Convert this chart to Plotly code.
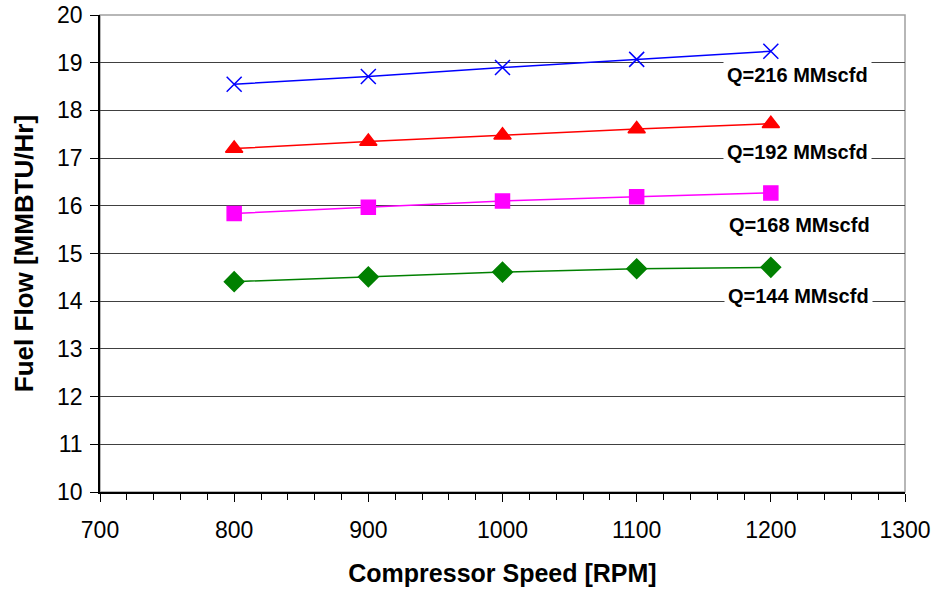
import plotly.graph_objects as go

speed = [800, 900, 1000, 1100, 1200]
q216 = [18.55, 18.71, 18.90, 19.07, 19.24]
q192 = [17.20, 17.35, 17.48, 17.61, 17.72]
q168 = [15.84, 15.97, 16.10, 16.19, 16.27]
q144 = [14.41, 14.51, 14.61, 14.68, 14.71]

labels = ["Q=216 MMscfd", "Q=192 MMscfd", "Q=168 MMscfd", "Q=144 MMscfd"]
label_x = [1219.5, 1219.5, 1221.5, 1220.5]
label_y = [18.74, 17.13, 15.60, 14.11]

series = [
    (q216, "#0000FF", "x-thin", 15),
    (q192, "#FF0000", "triangle-up", 15),
    (q168, "#FF00FF", "square", 14),
    (q144, "#008000", "diamond", 15),
]

FONT = "Arial, Liberation Sans, sans-serif"

fig = go.Figure()
for vals, col, sym, sz in series:
    fig.add_trace(go.Scatter(
        x=speed, y=vals, mode="lines+markers",
        line=dict(color=col, width=1.5),
        marker=dict(symbol=sym, size=sz, color=col,
                    line=dict(color=col, width=1.5)),
        showlegend=False,
    ))

for t, xx, yy in zip(labels, label_x, label_y):
    fig.add_annotation(x=xx, y=yy, text="<b>" + t + "</b>", showarrow=False,
                       font=dict(family=FONT, size=20, color="black"),
                       bgcolor="white", borderpad=3)

fig.add_shape(type="rect", xref="paper", yref="paper", x0=0, y0=0, x1=1, y1=1,
              line=dict(color="#A0A0A0", width=1.5), layer="below")

fig.update_layout(
    width=934, height=590,
    margin=dict(l=100, r=29, t=15, b=98, autoexpand=False),
    paper_bgcolor="white", plot_bgcolor="white",
    font=dict(family=FONT, color="black"),
    xaxis=dict(
        range=[700, 1300], dtick=100, tick0=700,
        showgrid=False, zeroline=False,
        showline=True, linecolor="black", linewidth=1.5,
        ticks="outside", ticklen=8, tickcolor="black", tickwidth=1,
        tickfont=dict(size=23), automargin=False, ticklabelstandoff=9,
        minor=dict(dtick=20, ticks="outside", ticklen=6, tickcolor="black", showgrid=False),
        title=dict(text="<b>Compressor Speed [RPM]</b>", font=dict(size=25), standoff=22),
    ),
    yaxis=dict(
        range=[10, 20], dtick=1,
        showgrid=True, gridcolor="#404040", gridwidth=1,
        zeroline=False, automargin=False,
        showline=True, linecolor="black", linewidth=1.5,
        ticks="outside", ticklen=8, tickcolor="black",
        tickfont=dict(size=23), ticklabelstandoff=3,
        title=dict(text="<b>Fuel Flow [MMBTU/Hr]</b>", font=dict(size=26), standoff=16),
    ),
)

fig.write_html("out.html", config={"displayModeBar": False},
               post_script="document.body.style.margin='0';")
